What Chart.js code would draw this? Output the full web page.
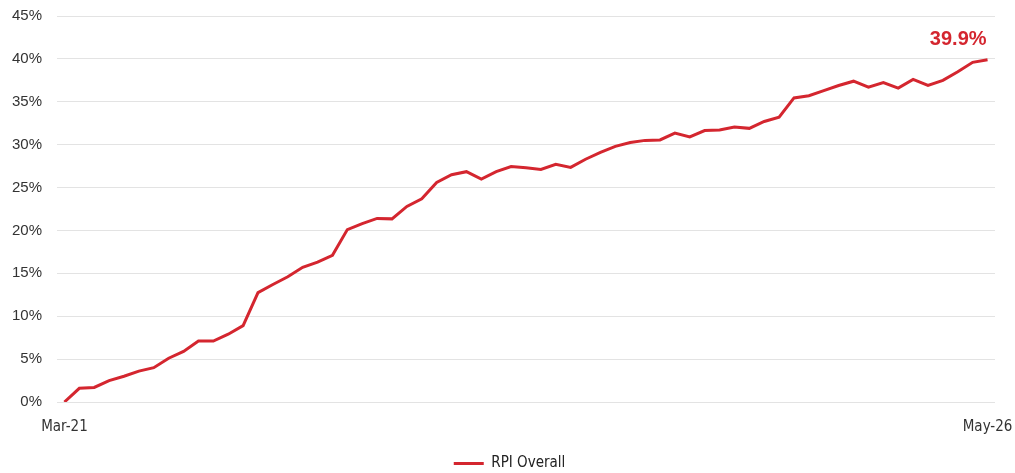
<!DOCTYPE html>
<html>
<head>
<meta charset="utf-8">
<script src="https://cdn.jsdelivr.net/npm/chart.js"></script>
<style>
  html, body { margin: 0; padding: 0; background: #fff; }
  #wrap { width: 1015px; height: 473px; }
</style>
</head>
<body>
<div id="wrap"><canvas id="chart-canvas"></canvas></div>
<script>
// monthly, Mar-21 .. May-26
const months = ["Jan", "Feb", "Mar", "Apr", "May", "Jun", "Jul", "Aug", "Sep", "Oct", "Nov", "Dec"];
const labels = [];
for (let y = 21; y <= 26; y++) {
    for (let m = 0; m < 12; m++) {
        if (y === 21 && m < 2) continue;
        if (y === 26 && m > 4) break;
        labels.push(months[m] + "-" + y);
    }
}

const rpiOverall = [
    0, 1.6, 1.7, 2.5, 3.0, 3.6, 4.0, 5.1, 5.9, 7.1,
    7.1, 7.9, 8.9, 12.75, 13.7, 14.6, 15.7, 16.3, 17.1, 20.1,
    20.8, 21.4, 21.35, 22.8, 23.7, 25.6, 26.5, 26.85, 26.0, 26.85,
    27.45, 27.3, 27.1, 27.7, 27.35, 28.3, 29.1, 29.8, 30.25, 30.5,
    30.55, 31.35, 30.9, 31.65, 31.7, 32.05, 31.9, 32.7, 33.2, 35.45,
    35.7, 36.3, 36.9, 37.4, 36.7, 37.25, 36.6, 37.6, 36.9, 37.5,
    38.5, 39.6, 39.9
];

const yTicks = [0, 5, 10, 15, 20, 25, 30, 35, 40, 45];

const red = "#d4262f";
const narrow = "'Liberation Sans Narrow', 'DejaVu Sans Condensed', 'Liberation Sans', sans-serif";

const endLabel = {
    id: "endLabel",
    afterLayout(chart) {
        // legend sits centred on the whole canvas, not the padded area
        chart.legend.left += 6;
        chart.legend.right += 6;
    },
    afterDatasetsDraw(chart) {
        const meta = chart.getDatasetMeta(0);
        const pt = meta.data[meta.data.length - 1];
        const ctx = chart.ctx;
        ctx.save();
        ctx.font = "bold 20px 'Liberation Sans', Arial, sans-serif";
        ctx.fillStyle = red;
        ctx.textAlign = "right";
        ctx.textBaseline = "alphabetic";
        ctx.fillText(rpiOverall[rpiOverall.length - 1].toFixed(1) + "%", pt.x - 1, pt.y - 15);
        ctx.restore();
    }
};

new Chart(document.getElementById("chart-canvas").getContext("2d"), {
    type: "line",
    data: {
        labels: labels,
        datasets: [{
            label: "RPI Overall",
            data: rpiOverall,
            borderColor: red,
            backgroundColor: red,
            borderWidth: 3,
            pointRadius: 0,
            tension: 0
        }]
    },
    options: {
        responsive: true,
        maintainAspectRatio: false,
        animation: false,
        layout: { padding: { left: 12, right: 20, top: 16, bottom: -8 } },
        plugins: {
            legend: {
                position: "bottom",
                labels: {
                    usePointStyle: true,
                    pointStyle: "line",
                    pointStyleWidth: 30,
                    boxWidth: 30,
                    padding: 4,
                    color: "#222",
                    font: { family: narrow, size: 15 }
                }
            },
            tooltip: { enabled: false }
        },
        scales: {
            x: {
                offset: true,
                grid: { display: false },
                border: { display: false },
                afterFit: (axis) => {
                    axis.paddingLeft = 0;
                    axis.paddingRight = 0;
                    axis.height = 50;
                },
                ticks: {
                    autoSkip: false,
                    maxRotation: 0,
                    color: "#333",
                    font: { family: narrow, size: 15 },
                    padding: 8,
                    callback: (v, i) => (i === 0 || i === labels.length - 1) ? labels[i] : ""
                }
            },
            y: {
                min: 0,
                max: 45,
                afterBuildTicks: (axis) => { axis.ticks = yTicks.map(v => ({ value: v })); },
                afterFit: (axis) => {
                    axis.paddingTop = 0;
                    axis.paddingBottom = 0;
                    axis.width = 45;
                },
                grid: { color: "#e3e3e3", lineWidth: 1, drawTicks: false },
                border: { display: false },
                ticks: {
                    color: "#333",
                    padding: 15,
                    font: { family: "'Liberation Sans', Arial, sans-serif", size: 15 },
                    callback: v => v + "%"
                }
            }
        }
    },
    plugins: [endLabel]
});
</script>
</body>
</html>
